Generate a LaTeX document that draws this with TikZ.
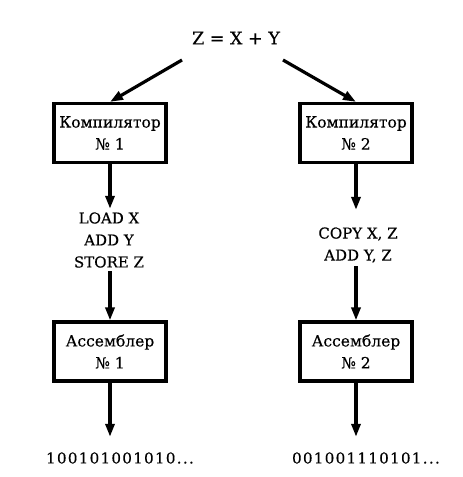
\documentclass[tikz,border=0pt]{standalone}
\usepackage{fontspec}
\setmainfont{DejaVu Serif}
\usetikzlibrary{arrows.meta,calc}

\begin{document}
\begin{tikzpicture}[x=1pt,y=-1pt,
    blk/.style={draw,line width=3.2pt,minimum width=112pt,minimum height=59pt,
      align=center,inner sep=0pt,font=\fontsize{15.5}{22}\selectfont\addfontfeatures{FakeBold=0.4}},
    txt/.style={align=center,font=\fontsize{15}{22}\selectfont\addfontfeatures{FakeBold=0.4}},
    arr/.style={line width=3.2pt,-{Triangle[length=13pt,width=9pt]}}]
  \useasboundingbox (0,0) rectangle (463,477);
  \node[txt,font=\fontsize{17.5}{22}\selectfont\addfontfeatures{FakeBold=0.4}] (eq) at (236,38) {Z = X + Y};
  \node[blk] (comp1) at (110,133) {Компилятор\\№ 1};
  \node[blk] (comp2) at (356,133) {Компилятор\\№ 2};
  \node[txt] (code1) at (109,240) {LOAD X\\ADD Y\\STORE Z};
  \node[txt] (code2) at (358,245) {COPY X, Z\\ADD Y, Z};
  \node[blk] (asm1) at (110,351.5) {Ассемблер\\№ 1};
  \node[blk] (asm2) at (356,351.5) {Ассемблер\\№ 2};
  \node[txt] (bin1) at (120,458) {\addfontfeatures{LetterSpace=9}100101001010...};
  \node[txt] (bin2) at (366,458) {\addfontfeatures{LetterSpace=9}001001110101...};
  \coordinate (eqL) at (182,60);
  \coordinate (eqR) at (283,60);
  \draw[arr] (eqL) -- (comp1.north);
  \draw[arr] (eqR) -- (comp2.north);
  \draw[arr] (comp1.south) -- (comp1.south |- code1.north);
  \draw[arr,shorten >=14pt] (comp2.south) -- (comp2.south |- code2.north);
  \draw[arr] (comp1.south |- code1.south) -- (asm1.north);
  \draw[arr] (comp2.south |- code2.south) -- (asm2.north);
  \draw[arr,shorten >=12pt] (asm1.south) -- (asm1.south |- bin1.north);
  \draw[arr,shorten >=12pt] (asm2.south) -- (asm2.south |- bin2.north);
\end{tikzpicture}
\end{document}
